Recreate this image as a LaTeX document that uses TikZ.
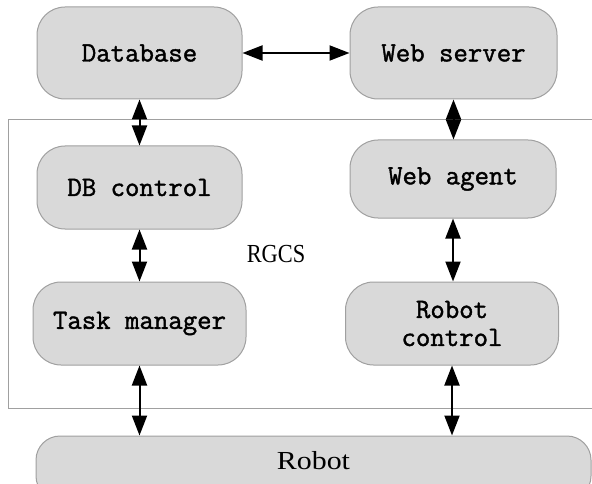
\documentclass[tikz,border=0pt]{standalone}
\usepackage{fontspec}
\usetikzlibrary{arrows.meta}
\newfontfamily\rgcsfont[FakeStretch=0.86]{Liberation Serif}
\newfontfamily\robotfont[FakeStretch=1.15]{Liberation Serif}
\newfontfamily\boxfont[FakeBold=1.5]{Latin Modern Mono}
\definecolor{boxfill}{HTML}{D9D9D9}
\definecolor{boxline}{HTML}{A0A0A0}
\tikzset{
  box/.style={draw=boxline, fill=boxfill, line width=1pt, rounded corners=28pt,
    font=\boxfont\fontsize{28}{30}\selectfont, align=center, inner sep=0pt},
  link/.style={line width=2pt, {Triangle[length=20pt,width=15pt]}-{Triangle[length=20pt,width=15pt]}},
  frame/.style={draw=boxline, line width=1pt}
}
\begin{document}
\begin{tikzpicture}[x=1pt,y=-1pt]
\useasboundingbox (0,0) rectangle (592,484);
\draw[frame] (600,120) -- (8,120) -- (8,408) -- (600,408);
\node[box, minimum width=205pt, minimum height=92pt] (db) at (139.5,53) {Database};
\node[box, minimum width=207pt, minimum height=92pt] (ws) at (453.5,53) {Web server};
\node[box, minimum width=205pt, minimum height=83pt] (dbc) at (139.5,187.5) {DB control};
\node[box, minimum width=206pt, minimum height=78pt] (wa) at (453,179) {Web agent};
\node[box, minimum width=213pt, minimum height=83pt] (tm) at (139.5,323.5) {Task manager};
\node[box, minimum width=213pt, minimum height=83pt] (rc) at (452,323.5) {Robot\\[-2pt]control};
\node[box, minimum width=555pt, minimum height=64pt, rounded corners=24pt, font=\robotfont\fontsize{26}{28}\selectfont, text height=17pt, text depth=14pt] (rb) at (313.5,468) {Robot};
\node[font=\rgcsfont\fontsize{26}{28}\selectfont, inner sep=0pt] (rgcs) at (276,254) {RGCS};
\draw[link] (db.east) -- (ws.west);
\draw[link] (db.south) -- (dbc.north);
\draw[link] (dbc.south) -- (tm.north);
\draw[link] (tm.south) -- (tm.south |- rb.north);
\draw[link] (ws.south) -- (ws.south |- wa.north);
\draw[link] (wa.south) -- (wa.south |- rc.north);
\draw[link] (rc.south) -- (rc.south |- rb.north);
\end{tikzpicture}
\end{document}
